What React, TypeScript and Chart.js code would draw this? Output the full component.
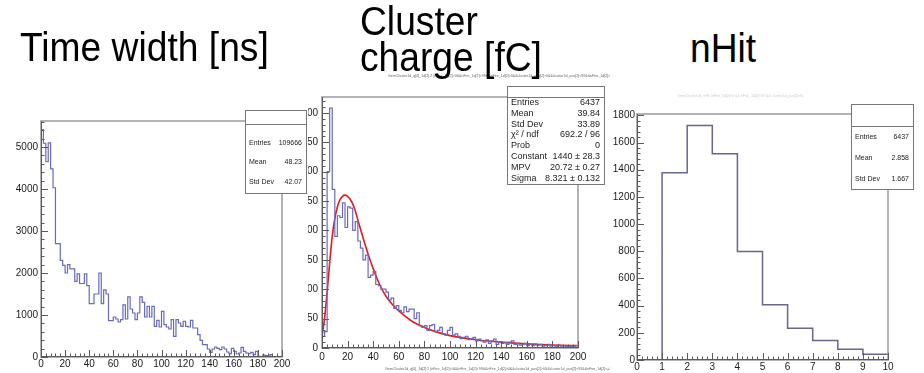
import React, { useEffect, useRef } from "react";
import { Chart, registerables } from "chart.js";

Chart.register(...registerables);

const FONT = '"Liberation Sans", Arial, Helvetica, sans-serif';

// ---------------- Data ----------------
// Panel 1: Time width [ns]
const timeWidthTitle = "Time width [ns]";
const timeWidthLowEdge = 0;
const timeWidthBinWidth = 2;
const timeWidthCounts = [
  5415, 5090, 4650, 5100, 4480, 4030, 2700, 2700, 2300, 2180,
  2000, 2200, 2100, 2100, 1800, 1980, 1750, 1750, 1980, 1700,
  1270, 1270, 1500, 1500, 2000, 1270, 1600, 1500, 865, 865,
  953, 905, 834, 890, 1240, 905, 1430, 1143, 1048, 890,
  1048, 1430, 1300, 953, 1207, 953, 1207, 730, 873, 715,
  1088, 770, 715, 667, 890, 492, 890, 810, 730, 850,
  730, 715, 873, 690, 690, 532, 397, 294, 294, 190,
  111, 190, 238, 206, 175, 238, 190, 119, 79, 206,
  135, 71, 95, 230, 135, 95, 79, 111, 56, 135,
  16, 0, 48, 32, 0, 56, 0, 0, 10, 0,
];
const timeWidthXRange = [0, 200];
const timeWidthYMax = 5620;
const timeWidthXStep = 20;
const timeWidthYStep = 1000;
const timeWidthStatLabels = ["Entries", "Mean", "Std Dev"];
const timeWidthStatValues = ["109666", "48.23", "42.07"];

// Panel 2: Cluster charge [fC]
const chargeTitle = ["Cluster", "charge [fC]"];
const chargeLowEdge = 0;
const chargeBinWidth = 2;
const chargeCounts = [
  20, 28, 300, 408, 270, 190, 225, 222, 247, 205,
  240, 238, 200, 215, 182, 170, 150, 158, 120, 124,
  130, 108, 106, 100, 100, 95, 82, 85, 68, 72,
  64, 60, 70, 62, 66, 66, 50, 60, 38, 35,
  38, 30, 38, 40, 28, 30, 35, 24, 22, 30,
  35, 22, 24, 20, 16, 18, 20, 14, 16, 18,
  12, 15, 12, 10, 14, 8, 12, 15, 6, 10,
  8, 9, 6, 10, 12, 6, 8, 5, 6, 8,
  4, 6, 4, 7, 5, 6, 3, 4, 6, 3,
  4, 2, 5, 3, 4, 2, 3, 2, 3, 4,
];
const chargeFitX = [0, 2, 4, 6, 8, 10, 12, 14, 16, 18, 20, 22, 25, 28, 32, 36, 40, 45, 50, 55, 60, 70, 80, 90, 100, 120, 140, 160, 180, 200];
const chargeFitY = [20, 50, 95, 145, 190, 220, 240, 252, 258, 260, 258, 253, 240, 218, 188, 160, 135, 108, 88, 74, 63, 46, 35, 27, 21, 14, 10, 7, 5, 4];
const chargeXRange = [0, 200];
const chargeYMax = 427;
const chargeXStep = 20;
const chargeYStep = 50;
const chargeStatLabels = ["Entries", "Mean", "Std Dev", "\u03C7\u00B2 / ndf", "Prob", "Constant", "MPV", "Sigma"];
const chargeStatValues = ["6437", "39.84", "33.89", "692.2 / 96", "0", "1440 \u00B1 28.3", "20.72 \u00B1 0.27", "8.321 \u00B1 0.132"];
const chargeCutText = "GemCluster1d_q[0]_1d[2]:2 {nFire_1d[2]>0&&nFire_1d[2]<99&&nFire_1d[2]>0&&cluster1d_pos[2]>0&&cluster1d_pos[2]<99&&nFire_1d[2]<=99}";

// Panel 3: nHit
const nHitTitle = "nHit";
const nHitLowEdge = 0;
const nHitBinWidth = 1;
const nHitCounts = [0, 1377, 1726, 1517, 799, 406, 234, 143, 79, 42];
const nHitXRange = [0, 10];
const nHitYMax = 1810;
const nHitXStep = 1;
const nHitYStep = 200;
const nHitStatLabels = ["Entries", "Mean", "Std Dev"];
const nHitStatValues = ["6437", "2.858", "1.667"];
const nHitCutText = "GemCluster1d_nHit {nFire_1d[2]>0 && nFire_1d[2]<99 && cluster1d_pos[2]>0}";

// ---------------- Helpers ----------------
function histPoints(counts: number[], lowEdge: number, binWidth: number) {
  const pts = counts.map((c, i) => ({ x: lowEdge + i * binWidth, y: c }));
  pts.push({ x: lowEdge + counts.length * binWidth, y: counts[counts.length - 1] });
  return pts;
}

function tickValues(min: number, max: number, step: number) {
  const out: { value: number }[] = [];
  const n = Math.floor((max - min) / step + 1e-9);
  for (let i = 0; i <= n; i++) out.push({ value: +(min + i * step).toFixed(6) });
  return out;
}

const rootDecor = {
  id: "rootDecor",
  afterDatasetsDraw(chart: any, _a: any, o: any) {
    const ctx = chart.ctx;
    const { left, right, top, bottom } = chart.chartArea;
    const xs = chart.scales.x;
    const ys = chart.scales.y;
    ctx.save();
    ctx.strokeStyle = o.frameColor;
    ctx.lineWidth = 1.5;
    ctx.strokeRect(left, top, right - left, bottom - top);
    ctx.strokeStyle = o.axisColor;
    ctx.lineWidth = 1;
    ctx.beginPath();
    ctx.moveTo(left + 0.5, top);
    ctx.lineTo(left + 0.5, bottom);
    ctx.moveTo(left, bottom - 0.5);
    ctx.lineTo(right, bottom - 0.5);
    ctx.stroke();
    ctx.beginPath();
    const eps = 1e-6;
    for (let v = xs.min; v <= xs.max + eps; v += o.xMinor) {
      const px = Math.round(xs.getPixelForValue(v)) + 0.5;
      const r = v / o.xMajor;
      const major = Math.abs(r - Math.round(r)) < 1e-4;
      const len = major ? o.majorLen : o.minorLen;
      ctx.moveTo(px, bottom);
      ctx.lineTo(px, bottom - len);
    }
    for (let v = ys.min; v <= ys.max + eps; v += o.yMinor) {
      const py = Math.round(ys.getPixelForValue(v)) + 0.5;
      const r = v / o.yMajor;
      const major = Math.abs(r - Math.round(r)) < 1e-4;
      const len = major ? o.majorLen : o.minorLen;
      ctx.moveTo(left, py);
      ctx.lineTo(left + len, py);
    }
    ctx.stroke();
    ctx.restore();
  },
  afterDraw(chart: any, _a: any, o: any) {
    const ctx = chart.ctx;
    ctx.save();
    const s = o.stats;
    if (s) {
      ctx.fillStyle = "#ffffff";
      ctx.fillRect(s.x, s.y, s.w, s.h);
      ctx.strokeStyle = "#777777";
      ctx.lineWidth = 1;
      ctx.strokeRect(s.x + 0.5, s.y + 0.5, s.w, s.h);
      ctx.beginPath();
      ctx.moveTo(s.x, s.divider + 0.5);
      ctx.lineTo(s.x + s.w, s.divider + 0.5);
      ctx.stroke();
      ctx.font = `${s.fontSize}px ${FONT}`;
      ctx.fillStyle = "#222222";
      ctx.textBaseline = "middle";
      s.labels.forEach((lab: string, i: number) => {
        const y = s.firstRow + i * s.rowStep;
        ctx.textAlign = "left";
        ctx.fillText(lab, s.x + s.padX, y);
        ctx.textAlign = "right";
        ctx.fillText(s.values[i], s.x + s.w - s.padX, y);
      });
    }
    (o.texts || []).forEach((t: any) => {
      ctx.font = `${t.size}px ${FONT}`;
      ctx.fillStyle = t.color;
      ctx.textAlign = "left";
      ctx.textBaseline = "middle";
      ctx.fillText(t.text, t.x, t.y);
    });
    ctx.restore();
  },
};

function buildConfig(p: any) {
  const datasets: any[] = [
    {
      data: histPoints(p.counts, p.lowEdge, p.binWidth),
      stepped: true,
      borderColor: p.lineColor,
      borderWidth: p.lineWidth,
      pointRadius: 0,
      fill: false,
    },
  ];
  if (p.fitX) {
    datasets.push({
      data: p.fitX.map((x: number, i: number) => ({ x, y: p.fitY[i] })),
      borderColor: "#e8191b",
      borderWidth: 1.6,
      pointRadius: 0,
      fill: false,
      cubicInterpolationMode: "monotone",
    });
  }
  const tickFont = { family: FONT, size: 10 };
  return {
    type: "line",
    data: { datasets },
    plugins: [rootDecor],
    options: {
      animation: false,
      responsive: false,
      maintainAspectRatio: false,
      events: [],
      layout: { padding: { left: 0, top: p.padTop, right: p.padRight, bottom: 0 } },
      plugins: {
        legend: { display: false },
        tooltip: { enabled: false },
        rootDecor: {
          frameColor: "#9a9a9a",
          axisColor: "#5a5a5a",
          majorLen: 7,
          minorLen: 3.5,
          xMajor: p.xStep,
          xMinor: p.xStep / 5,
          yMajor: p.yStep,
          yMinor: p.yStep / 5,
          stats: p.stats,
          texts: p.texts,
        },
      },
      scales: {
        x: {
          type: "linear",
          min: p.xRange[0],
          max: p.xRange[1],
          grid: { display: false, drawTicks: false },
          border: { display: false },
          afterBuildTicks: (s: any) => {
            s.ticks = tickValues(p.xRange[0], p.xRange[1], p.xStep);
          },
          ticks: {
            autoSkip: false,
            maxRotation: 0,
            padding: p.xPad,
            font: tickFont,
            color: "#1a1a1a",
            callback: (v: any) => String(v),
          },
          afterFit: (s: any) => {
            s.height = p.xAxisH;
          },
        },
        y: {
          type: "linear",
          min: 0,
          max: p.yMax,
          grid: { display: false, drawTicks: false },
          border: { display: false },
          afterBuildTicks: (s: any) => {
            s.ticks = tickValues(0, p.yMax, p.yStep);
          },
          ticks: {
            autoSkip: false,
            padding: p.yPad,
            font: tickFont,
            color: "#1a1a1a",
            callback: (v: any) => String(v),
          },
          afterFit: (s: any) => {
            s.width = p.yAxisW;
          },
        },
      },
    },
  };
}

const panels = [
  {
    key: "charge",
    left: 290, top: 70, w: 320, h: 303, z: 1, bg: "transparent",
    counts: chargeCounts, lowEdge: chargeLowEdge, binWidth: chargeBinWidth,
    fitX: chargeFitX, fitY: chargeFitY,
    lineColor: "#6a6ac0", lineWidth: 1.2,
    xRange: chargeXRange, yMax: chargeYMax, xStep: chargeXStep, yStep: chargeYStep,
    padTop: 27, padRight: 32, xAxisH: 25, yAxisW: 32, xPad: 3, yPad: 4,
    stats: {
      x: 217, y: 16, w: 97, h: 98, divider: 27, fontSize: 9, padX: 4,
      firstRow: 32.5, rowStep: 10.8,
      labels: chargeStatLabels, values: chargeStatValues,
    },
    texts: [
      { text: chargeCutText, x: 98, y: 6, size: 3.6, color: "#666666" },
      { text: chargeCutText, x: 95, y: 299, size: 3.6, color: "#666666" },
    ],
  },
  {
    key: "time",
    left: 0, top: 80, w: 308, h: 293, z: 2, bg: "#ffffff",
    counts: timeWidthCounts, lowEdge: timeWidthLowEdge, binWidth: timeWidthBinWidth,
    lineColor: "#6a6ac0", lineWidth: 1.2,
    xRange: timeWidthXRange, yMax: timeWidthYMax, xStep: timeWidthXStep, yStep: timeWidthYStep,
    padTop: 41, padRight: 26, xAxisH: 16, yAxisW: 41, xPad: 1, yPad: 3,
    stats: {
      x: 245, y: 30, w: 61, h: 83, divider: 44, fontSize: 7, padX: 4,
      firstRow: 63, rowStep: 19.5,
      labels: timeWidthStatLabels, values: timeWidthStatValues,
    },
    texts: [],
  },
  {
    key: "nhit",
    left: 610, top: 85, w: 314, h: 288, z: 1, bg: "transparent",
    counts: nHitCounts, lowEdge: nHitLowEdge, binWidth: nHitBinWidth,
    lineColor: "#66668f", lineWidth: 1.5,
    xRange: nHitXRange, yMax: nHitYMax, xStep: nHitXStep, yStep: nHitYStep,
    padTop: 29, padRight: 36, xAxisH: 13, yAxisW: 27, xPad: 1, yPad: 2,
    stats: {
      x: 241, y: 19, w: 62, h: 85, divider: 41, fontSize: 7, padX: 4,
      firstRow: 52, rowStep: 21,
      labels: nHitStatLabels, values: nHitStatValues,
    },
    texts: [{ text: nHitCutText, x: 68, y: 11, size: 3.6, color: "#cccccc" }],
  },
];

function Panel({ p }: { p: any }) {
  const ref = useRef<HTMLCanvasElement>(null);
  useEffect(() => {
    const chart = new Chart(ref.current as HTMLCanvasElement, buildConfig(p) as any);
    return () => chart.destroy();
  }, []);
  return (
    <canvas
      ref={ref}
      width={p.w}
      height={p.h}
      style={{
        position: "absolute",
        left: p.left,
        top: p.top,
        width: p.w,
        height: p.h,
        zIndex: p.z,
        background: p.bg,
        display: "block",
      }}
    />
  );
}

const titleStyle: React.CSSProperties = {
  position: "absolute",
  fontFamily: FONT,
  fontSize: 40,
  lineHeight: "40px",
  color: "#000000",
  whiteSpace: "nowrap",
  zIndex: 3,
  transform: "scaleX(0.93)",
  transformOrigin: "0 0",
};

export default function App() {
  return (
    <div
      style={{
        position: "absolute",
        left: 0,
        top: 0,
        width: 924,
        height: 373,
        background: "#ffffff",
        overflow: "hidden",
      }}
    >
      {panels.map((p) => (
        <Panel key={p.key} p={p} />
      ))}
      <div style={{ ...titleStyle, left: 20, top: 27 }}>{timeWidthTitle}</div>
      <div style={{ ...titleStyle, left: 360, top: 3, lineHeight: "36px" }}>
        {chargeTitle[0]}
        <br />
        {chargeTitle[1]}
      </div>
      <div style={{ ...titleStyle, left: 690, top: 28 }}>{nHitTitle}</div>
    </div>
  );
}
